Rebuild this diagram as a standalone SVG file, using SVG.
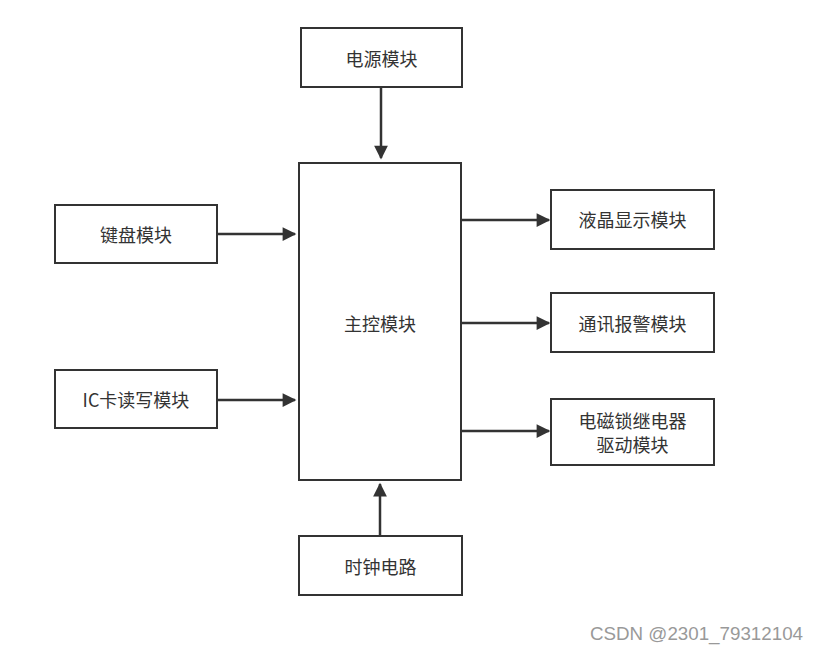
<svg xmlns="http://www.w3.org/2000/svg" width="817" height="653" viewBox="0 0 817 653">
<style>
.box{fill:#fff;stroke:#333;stroke-width:2}
.t{font-family:"Noto Sans CJK SC","Liberation Sans",sans-serif;font-size:18px;fill:#333;text-anchor:middle;dominant-baseline:central}
.c{stroke:#333;stroke-width:2.5;fill:none;marker-end:url(#ah)}
.wm{font-family:"Liberation Sans",sans-serif;font-size:18px;fill:#999}
</style>
<defs>
<marker id="ah" viewBox="0 0 10 10" refX="9" refY="5" markerWidth="6" markerHeight="5.5" markerUnits="strokeWidth" orient="auto">
<path d="M0,0 L10,5 L0,10 Z" fill="#333"/>
</marker>
</defs>
<rect width="817" height="653" fill="#fff"/>
<g id="connectors">
<line class="c" x1="381" y1="88" x2="381" y2="158"/>
<line class="c" x1="217" y1="234" x2="295" y2="234"/>
<line class="c" x1="217" y1="400" x2="295" y2="400"/>
<line class="c" x1="461" y1="220" x2="549" y2="220"/>
<line class="c" x1="461" y1="323" x2="549" y2="323"/>
<line class="c" x1="461" y1="431" x2="549" y2="431"/>
<line class="c" x1="380" y1="536" x2="380" y2="484"/>
</g>
<g id="power"><rect class="box" x="301" y="28" width="161" height="59"/><text class="t" x="381.5" y="58">电源模块</text></g>
<g id="main"><rect class="box" x="299" y="163" width="162" height="317"/><text class="t" x="380" y="323">主控模块</text></g>
<g id="keyboard"><rect class="box" x="55" y="205" width="162" height="58"/><text class="t" x="136" y="234">键盘模块</text></g>
<g id="ic"><rect class="box" x="55" y="370" width="162" height="58"/><text class="t" x="136" y="399">IC卡读写模块</text></g>
<g id="lcd"><rect class="box" x="551" y="190" width="163" height="59"/><text class="t" x="632.5" y="219">液晶显示模块</text></g>
<g id="comm"><rect class="box" x="551" y="293" width="163" height="59"/><text class="t" x="632.5" y="323">通讯报警模块</text></g>
<g id="relay"><rect class="box" x="551" y="399" width="163" height="66"/><text class="t" x="632.5" y="420">电磁锁继电器</text><text class="t" x="632.5" y="444">驱动模块</text></g>
<g id="clock"><rect class="box" x="299" y="536" width="163" height="59"/><text class="t" x="380.5" y="566">时钟电路</text></g>
<text class="wm" x="590" y="640" textLength="213" lengthAdjust="spacingAndGlyphs">CSDN @2301_79312104</text>
</svg>
